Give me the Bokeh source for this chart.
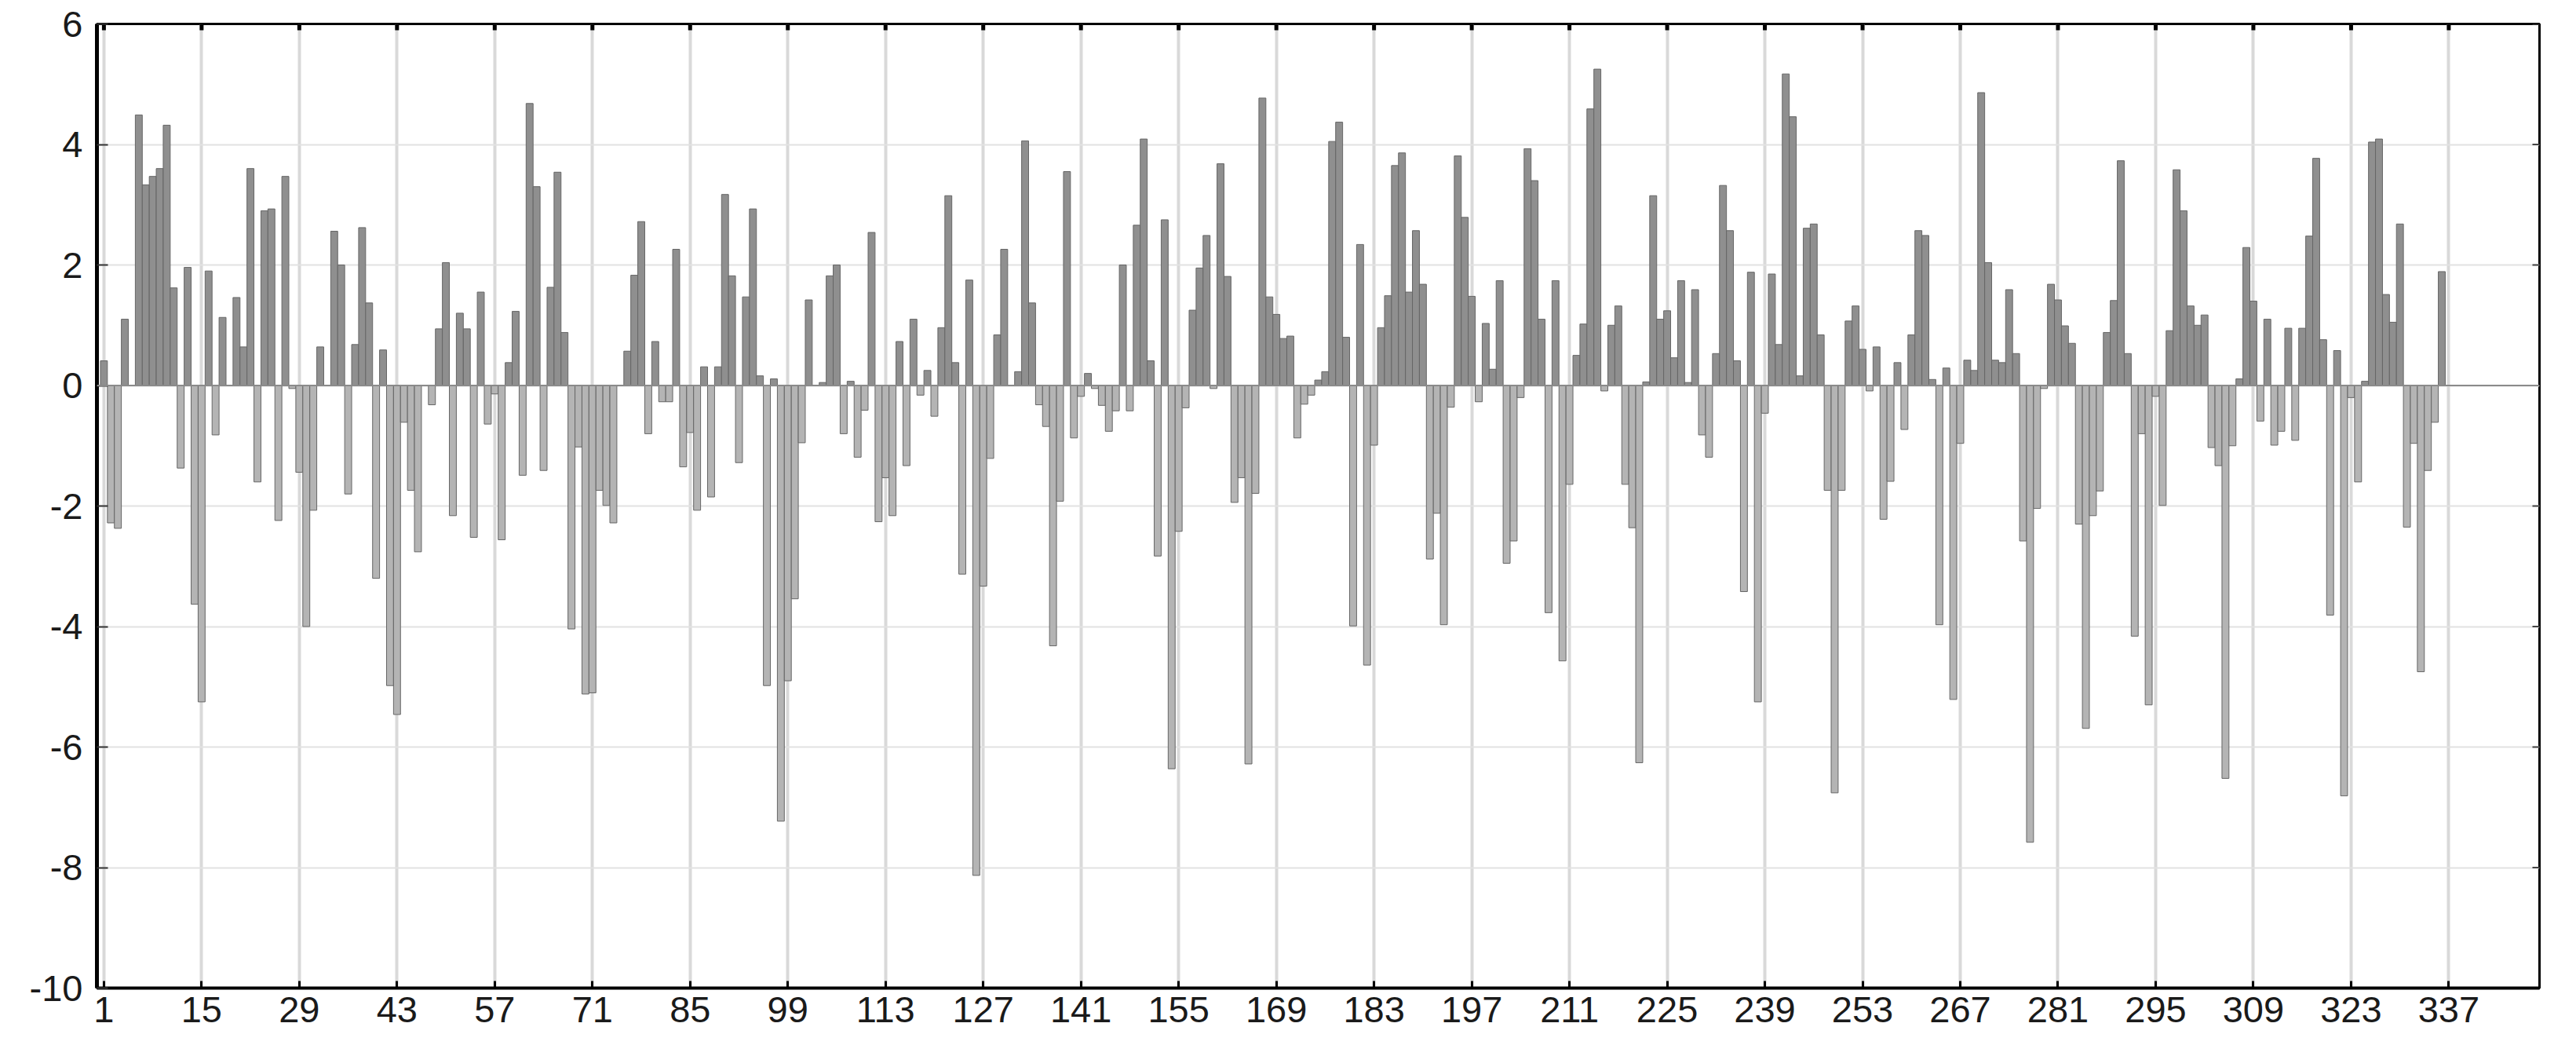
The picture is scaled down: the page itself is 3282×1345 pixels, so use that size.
import math
from bokeh.plotting import figure
from bokeh.models import ColumnDataSource, FixedTicker, Range1d, Span
from bokeh.embed import file_html
from bokeh.resources import INLINE

values = [
    0.41, -2.28, -2.37, 1.1, 0, 4.49, 3.33, 3.47, 3.6, 4.32, 1.62, -1.37, 1.96, -3.63,
    -5.25, 1.9, -0.82, 1.13, 0, 1.46, 0.64, 3.6, -1.6, 2.9, 2.93, -2.24, 3.47, -0.05,
    -1.44, -4.0, -2.07, 0.64, 0, 2.56, 2.0, -1.8, 0.68, 2.62, 1.37, -3.2, 0.59, -4.98,
    -5.46, -0.61, -1.74, -2.76, 0, -0.32, 0.94, 2.04, -2.16, 1.2, 0.94, -2.52, 1.55, -0.64,
    -0.14, -2.56, 0.38, 1.23, -1.49, 4.68, 3.3, -1.41, 1.63, 3.54, 0.88, -4.04, -1.02, -5.12,
    -5.1, -1.74, -1.99, -2.28, 0, 0.57, 1.83, 2.72, -0.8, 0.73, -0.27, -0.27, 2.26, -1.35,
    -0.78, -2.07, 0.31, -1.85, 0.31, 3.17, 1.82, -1.28, 1.47, 2.93, 0.16, -4.98, 0.11, -7.23,
    -4.9, -3.54, -0.95, 1.42, 0, 0.05, 1.82, 2.0, -0.8, 0.07, -1.19, -0.41, 2.54, -2.26,
    -1.53, -2.16, 0.73, -1.33, 1.1, -0.16, 0.25, -0.51, 0.96, 3.15, 0.38, -3.13, 1.75, -8.13,
    -3.33, -1.21, 0.84, 2.26, 0, 0.23, 4.06, 1.37, -0.32, -0.68, -4.32, -1.92, 3.55, -0.87,
    -0.18, 0.2, -0.05, -0.33, -0.76, -0.42, 2.0, -0.42, 2.66, 4.09, 0.41, -2.83, 2.75, -6.36,
    -2.42, -0.37, 1.25, 1.95, 2.49, -0.05, 3.68, 1.81, -1.94, -1.53, -6.28, -1.79, 4.77, 1.47,
    1.18, 0.78, 0.82, -0.87, -0.31, -0.16, 0.09, 0.23, 4.05, 4.37, 0.8, -3.99, 2.34, -4.64,
    -0.99, 0.96, 1.49, 3.65, 3.86, 1.55, 2.57, 1.68, -2.88, -2.12, -3.97, -0.36, 3.81, 2.79,
    1.48, -0.27, 1.03, 0.27, 1.74, -2.95, -2.58, -0.2, 3.93, 3.4, 1.1, -3.77, 1.74, -4.57,
    -1.64, 0.5, 1.02, 4.59, 5.25, -0.09, 1.0, 1.32, -1.64, -2.36, -6.26, 0.06, 3.15, 1.1,
    1.24, 0.46, 1.74, 0.05, 1.59, -0.82, -1.19, 0.53, 3.32, 2.57, 0.41, -3.42, 1.88, -5.25,
    -0.46, 1.85, 0.68, 5.17, 4.46, 0.16, 2.61, 2.68, 0.84, -1.74, -6.76, -1.74, 1.07, 1.32,
    0.6, -0.09, 0.64, -2.22, -1.59, 0.38, -0.73, 0.84, 2.57, 2.49, 0.1, -3.97, 0.29, -5.21,
    -0.96, 0.42, 0.25, 4.86, 2.04, 0.42, 0.38, 1.59, 0.53, -2.58, -7.58, -2.04, -0.05, 1.68,
    1.42, 0.99, 0.7, -2.3, -5.69, -2.16, -1.75, 0.88, 1.41, 3.73, 0.53, -4.16, -0.8, -5.3,
    -0.18, -1.99, 0.91, 3.58, 2.9, 1.32, 1.0, 1.17, -1.03, -1.33, -6.52, -1.0, 0.11, 2.29,
    1.4, -0.59, 1.1, -0.99, -0.76, 0.95, -0.91, 0.95, 2.48, 3.77, 0.76, -3.81, 0.58, -6.81,
    -0.2, -1.6, 0.07, 4.04, 4.09, 1.51, 1.05, 2.68, -2.35, -0.96, -4.75, -1.41, -0.61, 1.89,
]
days = list(range(1, len(values) + 1))
x_ticks = list(range(1, 338, 14))
y_ticks = list(range(-10, 7, 2))
X_MIN, X_MAX = 0, 350
Y_MIN, Y_MAX = -10, 6

colors = ["#8f8f8f" if v >= 0 else "#b4b4b4" for v in values]
src = ColumnDataSource(dict(x=days, top=values, color=colors))

FONT = "Liberation Sans"
LABEL_SIZE = "47px"

p = figure(width=3266, height=1329,
           x_range=Range1d(X_MIN, X_MAX), y_range=Range1d(Y_MIN, Y_MAX),
           output_backend="svg", toolbar_location=None,
           min_border_left=123, min_border_top=30,
           min_border_right=31, min_border_bottom=71)
p.outline_line_color = "black"
p.outline_line_width = 3
p.background_fill_color = "white"

p.vbar(x="x", top="top", bottom=0, width=1.0, fill_color="color",
       line_color="#666666", line_width=1, source=src)
p.add_layout(Span(location=0, dimension="width", line_color="#8a8a8a", line_width=2))

# tick marks on the top and right frame edges
p.scatter(x=x_ticks, y=[Y_MAX] * len(x_ticks), marker="dash", angle=math.pi / 2,
          size=16, line_color="black", line_width=5)
p.scatter(x=[X_MAX] * len(y_ticks), y=y_ticks, marker="dash",
          size=18, line_color="#444444", line_width=2)

# grids
p.xgrid.ticker = FixedTicker(ticks=x_ticks)
p.ygrid.ticker = FixedTicker(ticks=y_ticks)
p.xgrid.grid_line_color = "#d9d9d9"
p.xgrid.grid_line_width = 4
p.ygrid.grid_line_color = "#e2e2e2"
p.ygrid.grid_line_width = 2

# bottom axis
xa = p.xaxis[0]
xa.ticker = FixedTicker(ticks=x_ticks)
xa.axis_line_width = 4
xa.axis_line_color = "black"
xa.major_tick_in = 9
xa.major_tick_out = 0
xa.major_tick_line_width = 3
xa.minor_tick_line_color = None
xa.major_label_text_font = FONT
xa.major_label_text_font_size = LABEL_SIZE
xa.major_label_text_color = "#1a1a1a"
xa.major_label_standoff = 11

# left axis (hyphen-minus labels, as in the reference)
ya = p.yaxis[0]
ya.ticker = FixedTicker(ticks=y_ticks)
ya.major_label_overrides = {t: str(t) for t in y_ticks}
ya.axis_line_width = 5
ya.axis_line_color = "black"
ya.major_tick_in = 14
ya.major_tick_out = 0
ya.major_tick_line_width = 2
ya.major_tick_line_color = "#333333"
ya.minor_tick_line_color = None
ya.major_label_text_font = FONT
ya.major_label_text_font_size = LABEL_SIZE
ya.major_label_text_color = "#1a1a1a"
ya.major_label_standoff = 18

open("out.html", "w").write(file_html(p, INLINE))
